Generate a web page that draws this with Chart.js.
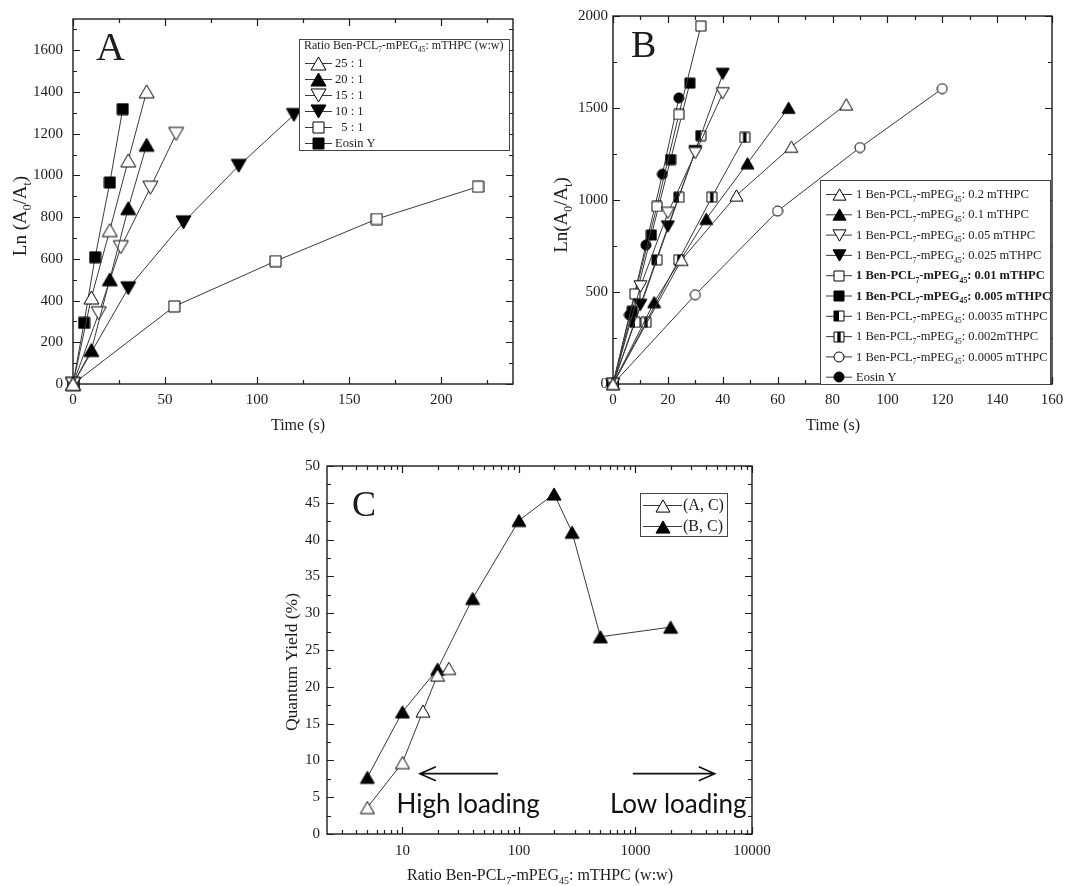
<!DOCTYPE html>
<html>
<head>
<meta charset="utf-8">
<script src="https://cdn.jsdelivr.net/npm/chart.js@4.4.0/dist/chart.umd.min.js"></script>
<style>
  body { margin: 0; background: #fff; width: 1086px; height: 886px; position: relative; overflow: hidden; }
  canvas { position: absolute; }
</style>
</head>
<body>
<canvas id="chartA" width="545" height="440" style="left:0;top:0"></canvas>
<canvas id="chartB" width="541" height="440" style="left:545px;top:0"></canvas>
<canvas id="chartC" width="545" height="466" style="left:250px;top:420px"></canvas>
<script>
// ---- A: bleaching kinetics at different polymer : mTHPC ratios
const aLabels = ['25 : 1', '20 : 1', '15 : 1', '10 : 1', '  5 : 1', 'Eosin Y'];
const aTime = [
  [0, 10, 20, 30, 40],
  [0, 10, 20, 30, 40],
  [0, 14, 26, 42, 56],
  [0, 30, 60, 90, 120],
  [0, 55, 110, 165, 220],
  [0, 6, 12, 20, 27]
];
const aLn = [
  [0, 415, 738, 1072, 1403],
  [0, 163, 502, 843, 1147],
  [0, 339, 656, 941, 1199],
  [0, 459, 775, 1046, 1290],
  [0, 372, 589, 791, 946],
  [0, 293, 608, 966, 1318]
];
const aTimeTicks = [0, 50, 100, 150, 200];
const aLnTicks = [0, 200, 400, 600, 800, 1000, 1200, 1400, 1600];

// ---- B: 1 polymer : x mTHPC
const bLabels = [
  '1 Ben-PCL_7-mPEG_45: 0.2 mTHPC',
  '1 Ben-PCL_7-mPEG_45: 0.1 mTHPC',
  '1 Ben-PCL_7-mPEG_45: 0.05 mTHPC',
  '1 Ben-PCL_7-mPEG_45: 0.025 mTHPC',
  '1 Ben-PCL_7-mPEG_45: 0.01 mTHPC',
  '1 Ben-PCL_7-mPEG_45: 0.005 mTHPC',
  '1 Ben-PCL_7-mPEG_45: 0.0035 mTHPC',
  '1 Ben-PCL_7-mPEG_45: 0.002mTHPC',
  '1 Ben-PCL_7-mPEG_45: 0.0005 mTHPC',
  'Eosin Y'
];
const bTime = [
  [0, 25, 45, 65, 85],
  [0, 15, 34, 49, 64],
  [0, 10, 20, 30, 40],
  [0, 10, 20, 30, 40],
  [0, 8, 16, 24, 32],
  [0, 7, 14, 21, 28],
  [0, 8, 16, 24, 32],
  [0, 12, 24, 36, 48],
  [0, 30, 60, 90, 120],
  [0, 6, 12, 18, 24]
];
const bLn = [
  [0, 675, 1025, 1290, 1520],
  [0, 445, 898, 1200, 1502],
  [0, 530, 930, 1255, 1580],
  [0, 430, 855, 1265, 1685],
  [0, 490, 965, 1465, 1945],
  [0, 395, 810, 1220, 1635],
  [0, 335, 675, 1015, 1350],
  [0, 335, 675, 1015, 1340],
  [0, 485, 940, 1285, 1605],
  [0, 375, 755, 1140, 1555]
];
const bTimeTicks = [0, 20, 40, 60, 80, 100, 120, 140, 160];
const bLnTicks = [0, 500, 1000, 1500, 2000];

// ---- C: quantum yield vs ratio
const cLabels = ['(A, C)', '(B, C)'];
const cRatio = [
  [5, 10, 15, 20, 25],
  [5, 10, 20, 40, 100, 200, 285.7, 500, 2000]
];
const cYield = [
  [3.6, 9.7, 16.7, 21.6, 22.5],
  [7.7, 16.6, 22.4, 32.0, 42.6, 46.2, 41.0, 26.8, 28.1]
];
const cRatioTicks = [10, 100, 1000, 10000];
const cYieldTicks = [0, 5, 10, 15, 20, 25, 30, 35, 40, 45, 50];

const INK = '#1c1c1c';
const LINE = '#3a3a3a';
const SERIF = '"Liberation Serif", "DejaVu Serif", serif';

Chart.defaults.font.family = SERIF;
Chart.defaults.font.size = 15;
Chart.defaults.color = INK;
Chart.defaults.animation = false;

function range(a, b, step) {
  const out = [];
  for (let v = a; v <= b + 1e-9; v += step) out.push(+v.toFixed(6));
  return out;
}

// text with _sub parts (PCL_7, A_0 ...)
function drawRich(ctx, str, x, y, size, weight, align) {
  const parts = str.split(/_(\w+)/);
  const font = (s) => (weight || 'normal') + ' ' + s + 'px ' + SERIF;
  let w = 0;
  parts.forEach((p, i) => {
    ctx.font = font(i % 2 ? size * 0.62 : size);
    w += ctx.measureText(p).width;
  });
  let cx = x;
  if (align === 'center') cx = x - w / 2;
  ctx.textAlign = 'left';
  ctx.textBaseline = 'alphabetic';
  parts.forEach((p, i) => {
    const sub = i % 2 === 1;
    ctx.font = font(sub ? size * 0.62 : size);
    ctx.fillText(p, cx, sub ? y + size * 0.28 : y);
    cx += ctx.measureText(p).width;
  });
  return w;
}

// little marker bitmaps used as point styles
function marker(kind, size) {
  const c = document.createElement('canvas');
  c.width = c.height = size + 2;
  const g = c.getContext('2d');
  const m = (size + 2) / 2, h = size / 2;
  const filled = kind.endsWith('F');
  const shape = kind.replace(/F$/, '');
  g.lineWidth = 1;
  g.strokeStyle = '#000';
  g.fillStyle = filled ? '#000' : '#fff';
  g.beginPath();
  if (shape === 'up' || shape === 'down') {
    const th = size * 0.87, s = shape === 'up' ? 1 : -1;
    g.moveTo(m, m - s * th / 2);
    g.lineTo(m + h, m + s * th / 2);
    g.lineTo(m - h, m + s * th / 2);
    g.closePath();
  } else if (shape === 'circle') {
    g.arc(m, m, h, 0, Math.PI * 2);
  } else {
    g.rect(m - h, m - h, size, size);
  }
  g.fill();
  if (shape === 'halfL') {
    g.fillStyle = '#000';
    g.fillRect(m - h, m - h, h, size);
  } else if (shape === 'halfM') {
    g.fillStyle = '#000';
    g.fillRect(m - size / 6, m - h, size / 3, size);
  }
  g.stroke();
  return c;
}

function datasets(labels, xs, ys, marks, bold) {
  return labels.map((label, i) => ({
    label,
    data: xs[i].map((x, j) => ({ x, y: ys[i][j] })),
    borderColor: LINE,
    borderWidth: 1,
    pointStyle: marks[i],
    pointRadius: 7,
    pointHoverRadius: 7,
    tension: 0,
    fill: false,
    clip: false,
    bold: bold ? bold.includes(i) : false
  }));
}

function axis(type, min, max, major, size, horizontal, pad) {
  return {
    type, min, max,
    border: { display: false },
    grid: { display: false, drawTicks: false },
    ticks: { padding: pad, maxRotation: 0, autoSkip: false, callback: (v) => String(v) },
    afterBuildTicks: (s) => { s.ticks = major.map((v) => ({ value: v })); },
    afterFit: (s) => { if (horizontal) s.height = size; else s.width = size; }
  };
}

// box + inward ticks on all four sides
const framePlugin = {
  id: 'frame',
  beforeDatasetsDraw(chart, args, o) {
    const { ctx, chartArea: a, scales } = chart;
    const x = scales.x, y = scales.y;
    ctx.save();
    ctx.strokeStyle = INK;
    ctx.lineWidth = 1.4;
    ctx.strokeRect(a.left, a.top, a.right - a.left, a.bottom - a.top);
    ctx.lineWidth = 1.2;
    ctx.beginPath();
    const xt = (vals, len) => vals.forEach((v) => {
      const p = Math.round(x.getPixelForValue(v)) + 0.5;
      ctx.moveTo(p, a.bottom); ctx.lineTo(p, a.bottom - len);
      ctx.moveTo(p, a.top); ctx.lineTo(p, a.top + len);
    });
    const yt = (vals, len) => vals.forEach((v) => {
      const p = Math.round(y.getPixelForValue(v)) + 0.5;
      ctx.moveTo(a.left, p); ctx.lineTo(a.left + len, p);
      ctx.moveTo(a.right, p); ctx.lineTo(a.right - len, p);
    });
    xt(o.xMajor, 7); xt(o.xMinor, 4);
    yt(o.yMajor, 7); yt(o.yMinor, 4);
    ctx.stroke();
    ctx.restore();
  }
};

// panel letter and axis titles
const titlesPlugin = {
  id: 'titles',
  afterDraw(chart, args, o) {
    const ctx = chart.ctx;
    ctx.save();
    ctx.fillStyle = INK;
    ctx.font = o.letter.size + 'px ' + SERIF;
    ctx.textAlign = 'left';
    ctx.textBaseline = 'alphabetic';
    ctx.fillText(o.letter.text, o.letter.x, o.letter.y);
    drawRich(ctx, o.xTitle.text, o.xTitle.x, o.xTitle.y, o.xTitle.size, 'normal', 'center');
    ctx.translate(o.yTitle.x, o.yTitle.y);
    ctx.rotate(-Math.PI / 2);
    drawRich(ctx, o.yTitle.text, 0, 0, o.yTitle.size, 'normal', 'center');
    ctx.restore();
  }
};

const legendPlugin = {
  id: 'boxLegend',
  afterDatasetsDraw(chart, args, o) {
    const ctx = chart.ctx;
    const [l, t, r, b] = o.box;
    ctx.save();
    ctx.fillStyle = '#fff';
    ctx.fillRect(l, t, r - l, b - t);
    ctx.strokeStyle = '#444';
    ctx.lineWidth = 1;
    ctx.strokeRect(l + 0.5, t + 0.5, r - l, b - t);
    ctx.fillStyle = INK;
    if (o.title) drawRich(ctx, o.title, o.titleX, o.titleY, o.titleSize, 'normal', 'left');
    chart.data.datasets.forEach((ds, i) => {
      const cy = o.firstRow + i * o.rowGap;
      ctx.strokeStyle = LINE;
      ctx.beginPath();
      ctx.moveTo(o.lineX[0], cy + 0.5);
      ctx.lineTo(o.lineX[1], cy + 0.5);
      ctx.stroke();
      const img = ds.pointStyle;
      ctx.drawImage(img, Math.round((o.lineX[0] + o.lineX[1]) / 2 - img.width / 2), Math.round(cy - img.height / 2 + 0.5));
      ctx.fillStyle = INK;
      drawRich(ctx, ds.label, o.textX, cy + o.size * 0.33, o.size, ds.bold ? 'bold' : 'normal', 'left');
    });
    ctx.restore();
  }
};

// loading direction arrows, placed in data space
const loadingPlugin = {
  id: 'loading',
  afterDraw(chart, args, o) {
    if (!o.arrows) return;
    const { ctx, scales: { x, y } } = chart;
    ctx.save();
    ctx.strokeStyle = '#111';
    ctx.fillStyle = '#111';
    ctx.lineWidth = 1.6;
    o.arrows.forEach(([from, to, yv]) => {
      const x0 = x.getPixelForValue(from), x1 = x.getPixelForValue(to), py = y.getPixelForValue(yv);
      const dir = Math.sign(x1 - x0);
      ctx.beginPath();
      ctx.moveTo(x0, py); ctx.lineTo(x1, py);
      ctx.moveTo(x1 - dir * 16, py - 7); ctx.lineTo(x1, py); ctx.lineTo(x1 - dir * 16, py + 7);
      ctx.stroke();
    });
    ctx.font = '26px Lato, "Open Sans", sans-serif';
    ctx.textAlign = 'left';
    ctx.textBaseline = 'alphabetic';
    o.notes.forEach(([text, xv, yv]) => {
      ctx.fillText(text, x.getPixelForValue(xv), y.getPixelForValue(yv));
    });
    ctx.restore();
  }
};

Chart.register(framePlugin, titlesPlugin, legendPlugin, loadingPlugin);

function makeChart(id, data, scales, padding, plugins) {
  return new Chart(document.getElementById(id), {
    type: 'line',
    data: { datasets: data },
    options: {
      responsive: false,
      devicePixelRatio: 1,
      layout: { padding },
      scales,
      plugins: Object.assign({ legend: { display: false }, tooltip: { enabled: false } }, plugins)
    }
  });
}

// Panel A
makeChart('chartA',
  datasets(aLabels, aTime, aLn,
    [marker('up', 15), marker('upF', 15), marker('down', 15), marker('downF', 15), marker('square', 11), marker('squareF', 11)]),
  {
    x: axis('linear', 0, 239, aTimeTicks, 56, true, 7),
    y: axis('linear', 0, 1750, aLnTicks, 73, false, 10)
  },
  { top: 15, right: 32, left: 0, bottom: 0 },
  {
    frame: { xMajor: aTimeTicks, xMinor: range(25, 225, 50), yMajor: aLnTicks, yMinor: range(100, 1700, 200) },
    titles: {
      letter: { text: 'A', x: 96, y: 60, size: 40 },
      xTitle: { text: 'Time (s)', x: 298, y: 430, size: 16 },
      yTitle: { text: 'Ln (A_0/A_t)', x: 26, y: 216, size: 19 }
    },
    boxLegend: {
      box: [299, 39, 509, 150], title: 'Ratio Ben-PCL_7-mPEG_45: mTHPC (w:w)', titleX: 304, titleY: 49, titleSize: 12,
      firstRow: 63, rowGap: 16, lineX: [305, 332], textX: 335, size: 12.5
    }
  });

// Panel B
makeChart('chartB',
  datasets(bLabels, bTime, bLn,
    [marker('up', 13), marker('upF', 13), marker('down', 13), marker('downF', 13), marker('square', 10),
     marker('squareF', 10), marker('halfL', 10), marker('halfM', 10), marker('circle', 10), marker('circleF', 10)],
    [4, 5]),
  {
    x: axis('linear', 0, 160, bTimeTicks, 56, true, 7),
    y: axis('linear', 0, 2000, bLnTicks, 68, false, 5)
  },
  { top: 16, right: 34, left: 0, bottom: 0 },
  {
    frame: { xMajor: bTimeTicks, xMinor: range(10, 150, 20), yMajor: bLnTicks, yMinor: range(250, 1750, 500) },
    titles: {
      letter: { text: 'B', x: 86, y: 57, size: 38 },
      xTitle: { text: 'Time (s)', x: 288, y: 430, size: 16 },
      yTitle: { text: 'Ln(A_0/A_t)', x: 22, y: 215, size: 19 }
    },
    boxLegend: {
      box: [275, 180, 505, 384], firstRow: 194, rowGap: 20.3, lineX: [281, 307], textX: 311, size: 12.5
    }
  });

// Panel C
makeChart('chartC',
  datasets(cLabels, cRatio, cYield, [marker('up', 14), marker('upF', 14)]),
  {
    x: axis('logarithmic', 2.25, 10000, cRatioTicks, 52, true, 8),
    y: axis('linear', 0, 50, cYieldTicks, 77, false, 7)
  },
  { top: 46, right: 43, left: 0, bottom: 0 },
  {
    frame: {
      xMajor: cRatioTicks,
      xMinor: [3, 4, 5, 6, 7, 8, 9, 20, 30, 40, 50, 60, 70, 80, 90, 200, 300, 400, 500, 600, 700, 800, 900,
               2000, 3000, 4000, 5000, 6000, 7000, 8000, 9000],
      yMajor: cYieldTicks, yMinor: range(2.5, 47.5, 5)
    },
    titles: {
      letter: { text: 'C', x: 102, y: 96, size: 36 },
      xTitle: { text: 'Ratio Ben-PCL_7-mPEG_45: mTHPC (w:w)', x: 290, y: 460, size: 16 },
      yTitle: { text: 'Quantum Yield (%)', x: 47, y: 242, size: 17.5 }
    },
    boxLegend: {
      box: [390, 73, 477, 116], firstRow: 85, rowGap: 21, lineX: [393, 432], textX: 433, size: 16
    },
    loading: {
      arrows: [[66, 14.1, 8.2], [948, 4790, 8.2]],
      notes: [['High loading', 8.9, 2.85], ['Low loading', 603, 2.85]]
    }
  });
</script>
</body>
</html>
